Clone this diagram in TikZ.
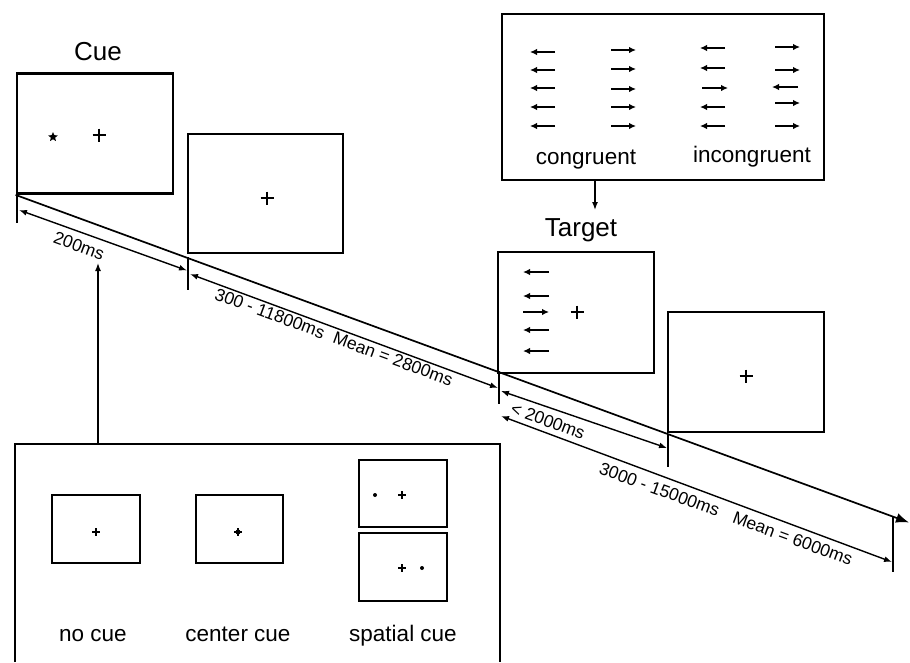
\documentclass[tikz,border=0pt]{standalone}
\usepackage{fontspec}
\setmainfont{Liberation Sans}
\usetikzlibrary{arrows.meta,shapes.geometric}
\begin{document}
\begin{tikzpicture}[x=1pt,y=-1pt,
  scr/.style={draw, line width=2.8pt, rectangle, inner sep=0pt, minimum width=156pt, minimum height=120pt},
  mini/.style={draw, line width=1.5pt, rectangle, inner sep=0pt, minimum width=88pt, minimum height=68pt},
  ttl/.style={font=\fontsize{26}{30}\selectfont, anchor=base, inner sep=0pt},
  lbl/.style={font=\fontsize{22.5}{26}\selectfont, anchor=base, inner sep=0pt},
  tml/.style={font=\fontsize{17.5}{20}\selectfont, rotate=-20.2, inner sep=0pt},
  tickline/.style={line width=1.4pt},
  dimline/.style={line width=1.4pt, {Latex[length=8pt,width=6pt]}-{Latex[length=8pt,width=6pt]}},
  flk/.style={line width=1.9pt, -{Latex[length=7pt,width=6.5pt]}},
  pointer/.style={line width=1.4pt, -{Latex[length=8pt,width=6pt]}},
  crossmark/.pic={\draw[line width=2.3pt] (-6.5,0)--(6.5,0) (0,-6.5)--(0,6.5);},
  smallcross/.pic={\draw[line width=1.4pt] (-4,0)--(4,0) (0,-4)--(0,4);},
  dotmark/.style={circle, fill, inner sep=0pt, minimum size=4pt}
]
\useasboundingbox (0,0) rectangle (910,662);

% ---- screens on the timeline ----
\node[scr] (cue) at (95,133.5) {};
\node[scr, minimum width=155pt, minimum height=119pt] (fixa) at (265.5,193.5) {};
\node[scr, minimum height=121pt] (target) at (576,312.5) {};
\node[scr] (fixb) at (746,372) {};
\node[scr, minimum width=322pt, minimum height=166pt] (flank) at (663,97) {};

\node[ttl] (cuetitle) at (98,60) {Cue};
\node[ttl] (targettitle) at (581,236) {Target};

% cue screen content
\node[star, star points=5, star point ratio=2.2, fill, inner sep=0pt, minimum size=10pt] (cuestar) at (53,137) {};
\pic at (99,135) {crossmark};
% fixation screens
\pic at (267,198) {crossmark};
\pic at (746,376) {crossmark};
% target screen content
\draw[flk] (549,272) -- (523,272);
\draw[flk] (549,296) -- (523,296);
\draw[flk] (523,312) -- (549,312);
\draw[flk] (549,330) -- (523,330);
\draw[flk] (549,351) -- (523,351);
\pic at (577,312) {crossmark};

% ---- flanker box ----
\foreach \yy in {52,70,88,107,126} {\draw[flk] (555,\yy) -- (530,\yy);}
\foreach \yy in {50,69,89,107,126} {\draw[flk] (611,\yy) -- (636,\yy);}
\draw[flk] (725,48) -- (700,48);
\draw[flk] (725,68) -- (700,68);
\draw[flk] (702,88) -- (728,88);
\draw[flk] (725,107) -- (700,107);
\draw[flk] (725,126) -- (700,126);
\draw[flk] (775,47) -- (800,47);
\draw[flk] (775,70) -- (800,70);
\draw[flk] (798,87) -- (772,87);
\draw[flk] (775,103) -- (800,103);
\draw[flk] (775,126) -- (800,126);
\node[lbl] (cong) at (586,164) {congruent};
\node[lbl] (incong) at (752,162) {incongruent};
\coordinate (tgtarrow) at (595,210);
\draw[pointer] (flank.south -| tgtarrow) -- (tgtarrow);

% ---- timeline ----
\coordinate (tlend) at (909,522.5);
\draw[line width=1.7pt, -{Latex[length=13pt,width=10pt]}] (cue.south west) -- (tlend);

\coordinate (k0a) at (17,194);  \coordinate (k0b) at (17,223);
\coordinate (k1a) at (188,257); \coordinate (k1b) at (188,290);
\coordinate (k2a) at (499,371); \coordinate (k2b) at (499,404);
\coordinate (k3a) at (668,434); \coordinate (k3b) at (668,467);
\coordinate (k4a) at (893,517); \coordinate (k4b) at (893,572);
\draw[tickline] (k0a) -- (k0b);
\draw[tickline] (k1a) -- (k1b);
\draw[tickline] (k2a) -- (k2b);
\draw[tickline] (k3a) -- (k3b);
\draw[tickline] (k4a) -- (k4b);

\coordinate (d1a) at (19,210);  \coordinate (d1b) at (187,270.5);
\coordinate (d2a) at (190,274); \coordinate (d2b) at (498,388);
\coordinate (d3a) at (501,391); \coordinate (d3b) at (667,448);
\coordinate (d4a) at (501,416); \coordinate (d4b) at (892,562);
\draw[dimline] (d1a) -- (d1b);
\draw[dimline] (d2a) -- (d2b);
\draw[dimline] (d3a) -- (d3b);
\draw[dimline] (d4a) -- (d4b);

\node[tml] (l1) at (79,246) {200ms};
\node[tml] (l2) at (334,337) {300 - 11800ms\hspace{0.6em}Mean = 2800ms};
\node[tml] (l3) at (548,421) {< 2000ms};
\node[tml] (l4) at (726,514) {3000 - 15000ms\hspace{0.9em}Mean = 6000ms};

% ---- cue types box ----
\coordinate (cbtl) at (15,444);
\coordinate (cbtr) at (500,444);
\draw[line width=2.4pt] (15,662) -- (cbtl) -- (cbtr) -- (500,662);
\coordinate (cuept) at (98,263);
\draw[pointer] (cbtl -| cuept) -- (cuept);

\node[mini] (nocue) at (96,529) {};
\pic at (96,532) {smallcross};
\node[mini, minimum width=87pt] (centercue) at (239.5,529) {};
\pic at (238,532) {smallcross};
\node[dotmark, minimum size=5pt] (cdot) at (238,532) {};
\node[mini, minimum height=67pt] (spa) at (403,493.5) {};
\node[dotmark] (sadot) at (375,495) {};
\pic at (402,495) {smallcross};
\node[mini] (spb) at (403,567) {};
\pic at (402,568) {smallcross};
\node[dotmark] (sbdot) at (422,568) {};

\node[lbl] (t1) at (93,641) {no cue};
\node[lbl] (t2) at (238,641) {center cue};
\node[lbl] (t3) at (403,641) {spatial cue};
\end{tikzpicture}
\end{document}
